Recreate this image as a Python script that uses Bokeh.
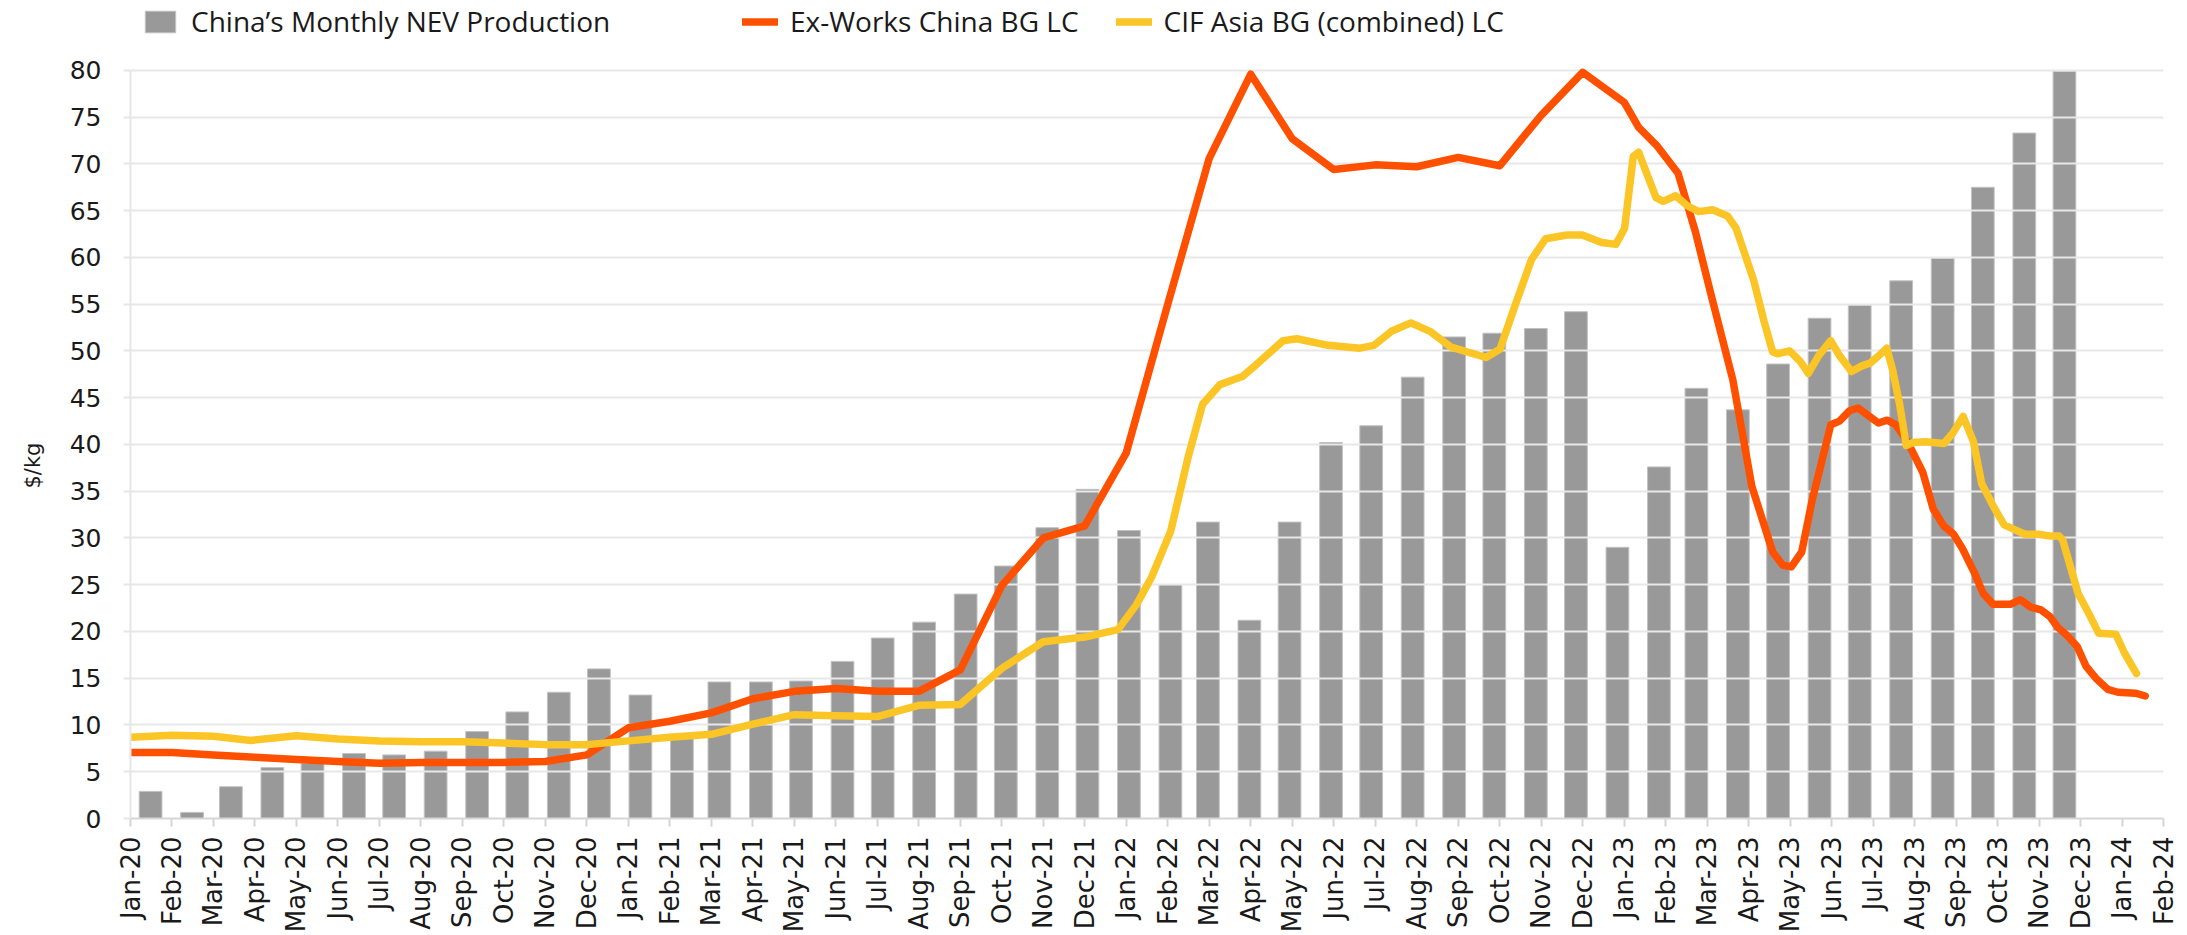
import numpy as np
import pandas as pd
from bokeh.plotting import figure
from bokeh.models import Range1d, FixedTicker, Legend, LegendItem, Title
from bokeh.embed import file_html
from bokeh.resources import INLINE

# ---------------- data ----------------
tick_labels = [
    "Jan-20", "Feb-20", "Mar-20", "Apr-20", "May-20", "Jun-20", "Jul-20", "Aug-20", "Sep-20", "Oct-20", "Nov-20", "Dec-20",
    "Jan-21", "Feb-21", "Mar-21", "Apr-21", "May-21", "Jun-21", "Jul-21", "Aug-21", "Sep-21", "Oct-21", "Nov-21", "Dec-21",
    "Jan-22", "Feb-22", "Mar-22", "Apr-22", "May-22", "Jun-22", "Jul-22", "Aug-22", "Sep-22", "Oct-22", "Nov-22", "Dec-22",
    "Jan-23", "Feb-23", "Mar-23", "Apr-23", "May-23", "Jun-23", "Jul-23", "Aug-23", "Sep-23", "Oct-23", "Nov-23", "Dec-23",
    "Jan-24", "Feb-24",
]

bar_months = [
    "2020-01", "2020-02", "2020-03", "2020-04", "2020-05", "2020-06", "2020-07", "2020-08", "2020-09", "2020-10", "2020-11", "2020-12",
    "2021-01", "2021-02", "2021-03", "2021-04", "2021-05", "2021-06", "2021-07", "2021-08", "2021-09", "2021-10", "2021-11", "2021-12",
    "2022-01", "2022-02", "2022-03", "2022-04", "2022-05", "2022-06", "2022-07", "2022-08", "2022-09", "2022-10", "2022-11", "2022-12",
    "2023-01", "2023-02", "2023-03", "2023-04", "2023-05", "2023-06", "2023-07", "2023-08", "2023-09", "2023-10", "2023-11", "2023-12",
]
nev_production = [
    2.9, 0.65, 3.4, 5.45, 5.9, 6.95, 6.8, 7.2, 9.3, 11.4, 13.5, 16.0,
    13.2, 8.7, 14.6, 14.6, 14.7, 16.8, 19.3, 21.0, 24.0, 27.0, 31.1, 35.2,
    30.8, 25.0, 31.7, 21.2, 31.7, 40.2, 42.0, 47.2, 51.5, 51.9, 52.4, 54.2,
    29.0, 37.6, 46.0, 43.7, 48.6, 53.5, 54.9, 57.5, 59.9, 67.5, 73.3, 79.9,
]

# line series: position along the date axis (in axis label intervals from Jan-20) and value
exworks_x = [
    0, 1, 2, 3, 4, 5, 6, 7, 8, 9, 10, 11, 12, 13, 14, 15, 16, 17, 18, 19, 20, 21, 22, 23, 24,
    25, 26, 27, 28, 29, 30, 31, 32, 33, 34, 35, 36, 36.35, 36.8, 37.3, 37.72, 38.09, 38.62,
    39.08, 39.58, 39.82, 40.03, 40.28, 40.53, 40.98, 41.19, 41.43, 41.64, 41.85, 42.13, 42.34,
    42.55, 42.83, 43.2, 43.45, 43.7, 43.94, 44.15, 44.44, 44.65, 44.89, 45.31, 45.55, 45.8,
    46.05, 46.26, 46.46, 46.67, 46.92, 47.13, 47.37, 47.66, 47.9, 48.32, 48.56,
]
exworks_val = [
    7.07, 7.05, 6.8, 6.55, 6.3, 6.1, 5.9, 6.0, 6.0, 6.0, 6.1, 6.8, 9.7, 10.4, 11.3, 12.8, 13.6, 13.9, 13.6, 13.6, 15.9, 24.9, 30.0, 31.3, 39.1,
    55.0, 70.6, 79.6, 72.7, 69.4, 69.9, 69.7, 70.7, 69.8, 75.2, 79.8, 76.6, 73.9, 71.9, 69.0, 62.7, 56.1, 46.9,
    35.5, 28.5, 27.1, 26.9, 28.5, 34.0, 42.1, 42.5, 43.6, 43.9, 43.2, 42.3, 42.6,
    42.1, 40.3, 37.0, 33.1, 31.3, 30.4, 28.9, 26.3, 24.1, 22.9, 22.9, 23.4, 22.6,
    22.3, 21.6, 20.4, 19.6, 18.4, 16.3, 15.0, 13.8, 13.5, 13.4, 13.1,
]

cif_x = [
    0, 1, 2, 2.9, 4, 5, 6, 7, 8, 9, 10, 11, 12, 13, 14, 15, 16, 17, 18, 19, 20, 21, 22, 23,
    23.8, 24.25, 24.61, 25.07, 25.5, 25.84, 26.26, 26.81, 27.1, 27.78, 28.11, 28.87, 29.63, 29.97,
    30.39, 30.86, 31.32, 31.83, 32.67, 33.01, 33.35, 33.77, 34.11, 34.62, 34.99, 35.46, 35.8,
    36.01, 36.22, 36.35, 36.56, 36.77, 36.94, 37.24, 37.53, 37.8, 38.13, 38.5, 38.7, 39.12,
    39.37, 39.58, 39.7, 39.99, 40.24, 40.44, 40.69, 40.98, 41.19, 41.48, 41.73, 41.93, 42.14,
    42.33, 42.47, 42.64, 42.8, 42.97, 43.26, 43.71, 43.92, 44.17, 44.42, 44.62, 44.91, 45.16,
    45.41, 45.66, 45.99, 46.28, 46.48, 46.57, 46.94, 47.19, 47.44, 47.85, 48.06, 48.35,
]
cif_val = [
    8.7, 8.9, 8.8, 8.35, 8.85, 8.5, 8.3, 8.2, 8.2, 8.07, 7.9, 7.9, 8.3, 8.7, 9.0, 10.1, 11.1, 11.0, 10.9, 12.1, 12.2, 16.05, 18.9, 19.4,
    20.2, 22.9, 25.8, 30.7, 38.8, 44.3, 46.4, 47.3, 48.4, 51.1, 51.3, 50.6, 50.3, 50.6,
    52.1, 53.0, 52.1, 50.4, 49.3, 50.2, 54.6, 59.8, 62.0, 62.4, 62.4, 61.6, 61.4,
    63.1, 70.8, 71.25, 68.8, 66.4, 66.0, 66.6, 65.5, 64.9, 65.1, 64.4, 63.1, 57.6,
    53.2, 49.9, 49.7, 50.0, 48.9, 47.6, 49.5, 51.1, 49.5, 47.8, 48.4, 48.7, 49.5,
    50.3, 48.0, 44.3, 39.9, 40.2, 40.3, 40.1, 41.2, 43.0, 40.3, 35.8, 33.3, 31.4,
    30.9, 30.4, 30.4, 30.2, 30.2, 29.8, 24.1, 22.0, 19.8, 19.7, 17.7, 15.5,
]

y_ticks = list(range(0, 81, 5))
y_max = 80

# ---------------- geometry ----------------
# Date axis: one label every 31 days starting 1 Jan 2020; bars sit at mid-month dates.
origin = pd.Timestamp("2020-01-01")
bar_dates = pd.to_datetime([m + "-01" for m in bar_months]) + pd.Timedelta(days=15)
bar_pos = [(d - origin).days / 31.0 for d in bar_dates]
bar_width = 17 / 31.0

W, H = 2187, 935
FRAME_LEFT, FRAME_RIGHT = 128, 24
PLOT_TOP, PLOT_BOTTOM = 70, 116          # pixel position of the 80-line and bottom border
frame_h = H - PLOT_BOTTOM                  # frame spans from canvas top to the x axis
y_top = y_max * frame_h / (frame_h - PLOT_TOP)   # headroom above 80 hosts the legend

RED = "#FF5000"
YELLOW = "#FCC526"
GREY = "#999999"
AXIS_GREY = "#d6d6d6"
TXT = "#1a1a1a"

p = figure(
    width=W, height=H,
    x_range=Range1d(0, len(tick_labels) - 1), y_range=Range1d(0, y_top),
    output_backend="svg", toolbar_location=None,
    min_border_left=FRAME_LEFT, min_border_right=FRAME_RIGHT,
    min_border_top=0, min_border_bottom=PLOT_BOTTOM,
)
p.outline_line_color = None
p.background_fill_color = "white"
p.border_fill_color = "white"

bars = p.vbar(x=bar_pos, top=nev_production, width=bar_width, bottom=0,
              fill_color=GREY, line_color="#c2c2c2", line_width=1, level="image")
red_line = p.line(exworks_x, exworks_val, line_color=RED, line_width=7.5,
                  line_join="round", line_cap="round")
yel_line = p.line(cif_x, cif_val, line_color=YELLOW, line_width=7.5,
                  line_join="round", line_cap="round")

# axes
xa = p.xaxis[0]
xa.ticker = FixedTicker(ticks=list(range(len(tick_labels))))
xa.major_label_overrides = {i: lab for i, lab in enumerate(tick_labels)}
xa.major_label_orientation = np.pi / 2
xa.major_label_text_font = "DejaVu Sans"
xa.major_label_text_font_size = "26px"
xa.major_label_text_color = TXT
xa.major_label_standoff = 10
xa.major_tick_out = 8
xa.major_tick_in = 0
xa.minor_tick_line_color = None
xa.axis_line_color = AXIS_GREY
xa.axis_line_width = 2
xa.major_tick_line_color = AXIS_GREY
xa.major_tick_line_width = 2

ya = p.yaxis[0]
ya.bounds = (0, y_max)
ya.ticker = FixedTicker(ticks=y_ticks)
ya.major_label_text_font = "DejaVu Sans"
ya.major_label_text_font_size = "25px"
ya.major_label_text_color = TXT
ya.major_label_standoff = 22
ya.major_tick_out = 7
ya.major_tick_in = 0
ya.minor_tick_line_color = None
ya.axis_line_color = "#e6e6e6"
ya.axis_line_width = 2
ya.major_tick_line_color = "#e6e6e6"
ya.major_tick_line_width = 2

# y-axis title, centred on the 0..80 span rather than the whole frame
ytitle = Title(text="$/kg", align="left", vertical_align="top", offset=330, standoff=40,
               text_font="DejaVu Sans", text_font_size="21px",
               text_font_style="normal", text_color=TXT)
p.add_layout(ytitle, "left")

p.xgrid.grid_line_color = None
p.ygrid.ticker = FixedTicker(ticks=y_ticks)
p.ygrid.grid_line_color = "#e8e8e8"
p.ygrid.grid_line_width = 2

# legends (inside the headroom above the 80-line)
common = dict(orientation="horizontal", padding=0, margin=0, border_line_color=None,
              background_fill_alpha=0, label_text_font="Open Sans", label_text_font_size="28px",
              label_text_color=TXT, glyph_height=27, label_standoff=12, spacing=37)
leg_y = frame_h - 41
leg1 = Legend(items=[LegendItem(label="China\u2019s Monthly NEV Production", renderers=[bars])],
              location=(11, leg_y), glyph_width=38, **common)
leg2 = Legend(items=[LegendItem(label="Ex-Works China BG LC", renderers=[red_line]),
                     LegendItem(label="CIF Asia BG (combined) LC", renderers=[yel_line])],
              location=(612, leg_y), glyph_width=36, **common)
p.add_layout(leg1)
p.add_layout(leg2)

open("out.html", "w").write(file_html(p, INLINE))
